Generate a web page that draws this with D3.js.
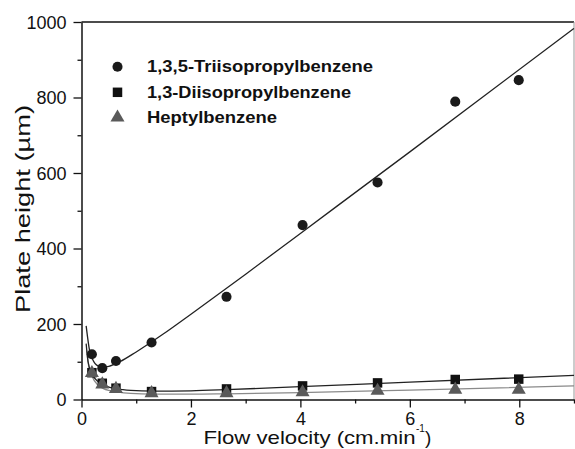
<!DOCTYPE html>
<html>
<head>
<meta charset="utf-8">
<script src="https://cdn.jsdelivr.net/npm/d3@7"></script>
<style>
  body { margin: 0; background: #fff; }
  svg { display: block; font-family: "Liberation Sans", Arial, sans-serif; }
</style>
</head>
<body>
<div id="chart"></div>
<script>
// measured flow velocities (cm/min), shared by all three solutes
const velocities = [0.19, 0.38, 0.63, 1.28, 2.65, 4.04, 5.41, 6.83, 7.99];

// plate heights (um)
const triisopropyl = [120, 83, 102, 151, 272, 462, 575, 789, 846];
const diisopropyl = [71, 43, 30, 21, 28, 36, 44, 53, 54];
const heptyl = [70, 40, 28, 17, 17, 19, 23, 26, 26];

// fitted curves
const fitTriX = [0.085, 0.15, 0.2, 0.3, 0.4, 0.5, 0.7, 1.0, 1.5, 2, 3, 4, 6, 9];
const fitTriY = [195, 128, 107, 89, 86, 88, 100, 126, 174, 226, 332, 440, 656, 983];
const fitDiX = [0.085, 0.12, 0.19, 0.3, 0.4, 0.5, 0.65, 0.9, 1.3, 2, 2.65, 4, 6, 9];
const fitDiY = [148, 100, 68, 48, 38, 33, 28, 24, 22, 23, 26, 34, 46, 64];
const fitHepX = [0.095, 0.13, 0.19, 0.3, 0.4, 0.5, 0.65, 0.9, 1.3, 2, 2.65, 4, 6, 9];
const fitHepY = [130, 90, 62, 38, 29, 24, 20, 16, 14, 14, 15, 18, 25, 36];

const legendNames = ["1,3,5-Triisopropylbenzene", "1,3-Diisopropylbenzene", "Heptylbenzene"];

const xMajor = [0, 2, 4, 6, 8];
const xMinor = [1, 3, 5, 7, 9];
const yMajor = [0, 200, 400, 600, 800, 1000];
const yMinor = [100, 300, 500, 700, 900];

(function draw() {
    "use strict";

    const width = 575, height = 449;
    // plot box edges in pixels
    const box = { left: 81.5, right: 574, top: 22, bottom: 399.5 };

    const svg = d3.select("#chart").append("svg")
        .attr("width", width)
        .attr("height", height);

    const x = d3.scaleLinear().domain([0, 9]).range([box.left, box.right]);
    const y = d3.scaleLinear().domain([0, 1000]).range([box.bottom, box.top]);

    // frame: top black, right grey
    svg.append("line")
        .attr("x1", box.left).attr("x2", box.right).attr("y1", box.top).attr("y2", box.top)
        .attr("stroke", "#111").attr("stroke-width", 1.5);
    svg.append("line")
        .attr("x1", box.right).attr("x2", box.right).attr("y1", box.top).attr("y2", box.bottom)
        .attr("stroke", "#999").attr("stroke-width", 1);

    // x axis
    const gx = svg.append("g").attr("transform", "translate(0," + box.bottom + ")");
    gx.call(d3.axisBottom(x).tickValues(xMajor).tickSize(8).tickSizeOuter(0).tickFormat(d3.format("d")));
    gx.append("g").call(d3.axisBottom(x).tickValues(xMinor).tickSize(4).tickSizeOuter(0).tickFormat(""))
        .select(".domain").remove();
    gx.selectAll(".domain").attr("stroke", "#111").attr("stroke-width", 1.5);
    gx.selectAll(".tick line").attr("stroke", "#111").attr("stroke-width", 1.3);
    gx.selectAll(".tick text")
        .attr("y", 0)
        .attr("dy", 0)
        .attr("transform", "translate(0,25)")
        .style("font-size", "18px")
        .attr("fill", "#111");

    // y axis
    const gy = svg.append("g").attr("transform", "translate(" + box.left + ",0)");
    gy.call(d3.axisLeft(y).tickValues(yMajor).tickSize(8).tickSizeOuter(0).tickFormat(d3.format("d")));
    gy.append("g").call(d3.axisLeft(y).tickValues(yMinor).tickSize(4).tickSizeOuter(0).tickFormat(""))
        .select(".domain").remove();
    gy.selectAll(".domain").attr("stroke", "#111").attr("stroke-width", 1.5);
    gy.selectAll(".tick line").attr("stroke", "#111").attr("stroke-width", 1.3);
    gy.selectAll(".tick text")
        .attr("x", -15)
        .attr("dy", "0.36em")
        .style("font-size", "18px")
        .attr("fill", "#111");

    // axis titles
    svg.append("text")
        .attr("transform", "translate(30,209) rotate(-90)")
        .attr("text-anchor", "middle")
        .attr("textLength", 208)
        .attr("lengthAdjust", "spacingAndGlyphs")
        .style("font-size", "21px")
        .attr("fill", "#111")
        .text("Plate height (\u00b5m)");

    svg.append("text")
        .attr("x", 203.5).attr("y", 444)
        .attr("textLength", 212)
        .attr("lengthAdjust", "spacingAndGlyphs")
        .style("font-size", "19px")
        .attr("fill", "#111")
        .text("Flow velocity (cm.min");
    svg.append("text")
        .attr("x", 416).attr("y", 432)
        .style("font-size", "10px")
        .attr("fill", "#111")
        .text("-1");
    svg.append("text")
        .attr("x", 425).attr("y", 444)
        .style("font-size", "19px")
        .attr("fill", "#111")
        .text(")");

    // fitted curves
    const line = d3.line()
        .x(d => x(d[0]))
        .y(d => y(d[1]))
        .curve(d3.curveMonotoneX);

    const fits = [
        { xs: fitHepX, ys: fitHepY, color: "#8a8a8a" },
        { xs: fitDiX, ys: fitDiY, color: "#222" },
        { xs: fitTriX, ys: fitTriY, color: "#222" }
    ];
    fits.forEach(f => {
        svg.append("path")
            .datum(f.xs.map((v, i) => [v, f.ys[i]]))
            .attr("d", line)
            .attr("fill", "none")
            .attr("stroke", f.color)
            .attr("stroke-width", 1.3);
    });

    // markers
    const circleSym = d3.symbol().type(d3.symbolCircle).size(80);
    const squareSym = d3.symbol().type(d3.symbolSquare).size(90);
    const triSym = d3.symbol().type(d3.symbolTriangle).size(85);

    function drawSeries(values, sym, color) {
        svg.append("g").selectAll("path")
            .data(values.map((v, i) => [velocities[i], v]))
            .enter()
            .append("path")
            .attr("d", sym)
            .attr("transform", d => "translate(" + x(d[0]) + "," + y(d[1]) + ")")
            .attr("fill", color);
    }

    drawSeries(triisopropyl, circleSym, "#1a1a1a");
    drawSeries(diisopropyl, squareSym, "#111");
    drawSeries(heptyl, triSym, "#5a5a5a");

    // legend
    const legendY = [66.7, 92.3, 117.5];
    const legendSyms = [circleSym, squareSym, triSym];
    const legendColors = ["#1a1a1a", "#111", "#5a5a5a"];
    const legendWidths = [226, 204, 130];

    legendNames.forEach((name, i) => {
        svg.append("path")
            .attr("d", legendSyms[i])
            .attr("transform", "translate(117.5," + legendY[i] + ")")
            .attr("fill", legendColors[i]);
        svg.append("text")
            .attr("x", 147)
            .attr("y", legendY[i])
            .attr("dy", "0.36em")
            .attr("textLength", legendWidths[i])
            .attr("lengthAdjust", "spacingAndGlyphs")
            .style("font-size", "16px")
            .style("font-weight", "bold")
            .attr("fill", "#111")
            .text(name);
    });
})();
</script>
</body>
</html>
